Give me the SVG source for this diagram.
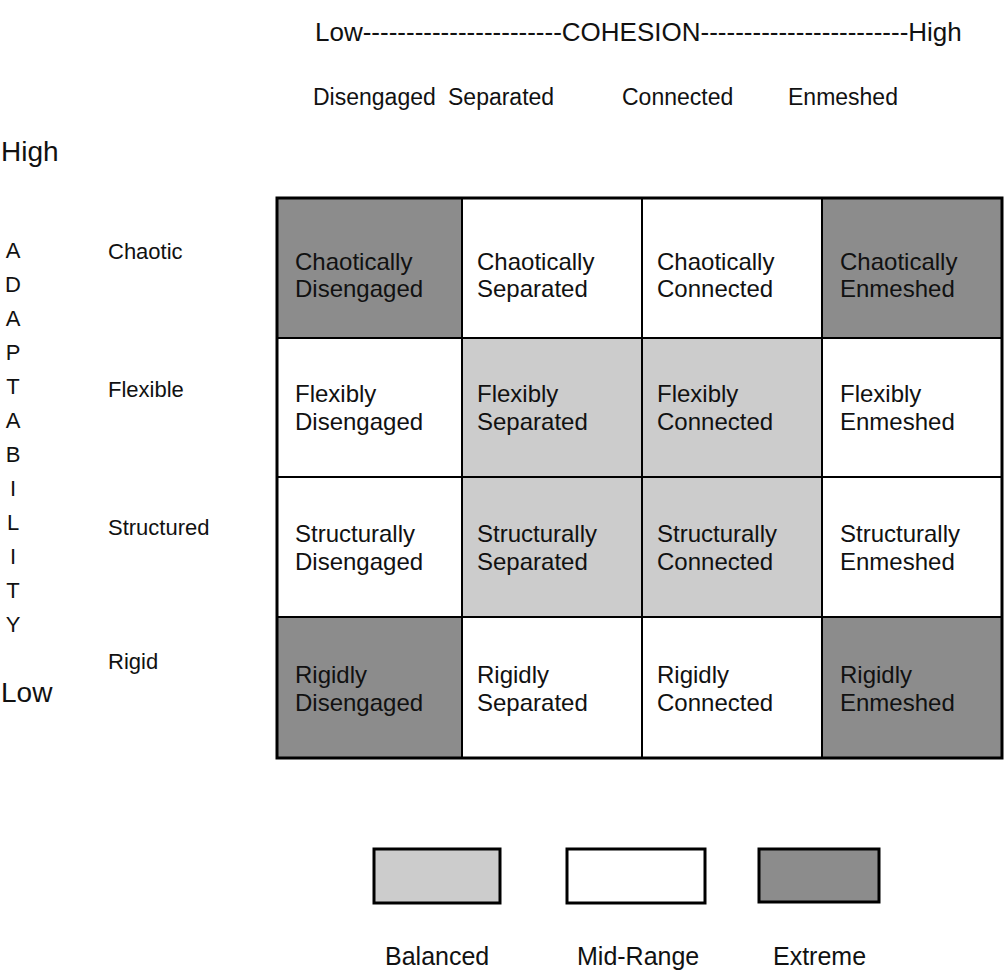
<svg xmlns="http://www.w3.org/2000/svg" width="1005" height="974" viewBox="0 0 1005 974">
<style>
text{font-family:"Liberation Sans",Arial,sans-serif;fill:#111}
.cell{font-size:24px}
.hdr{font-size:23px}
.row{font-size:22px}
.axis{font-size:28px}
.ltr{font-size:22px;text-anchor:middle}
.legt{font-size:25px}
.ext{fill:#8c8c8c}
.bal{fill:#cccccc}
.mid{fill:#ffffff}
.grid{stroke:#000;stroke-width:2;fill:none}
.leg{stroke:#000;stroke-width:3}
</style>
<rect width="1005" height="974" fill="#fff"/>
<g id="header">
<text x="315" y="41" style="font-size:26px">Low-----------------------COHESION------------------------High</text>
<text class="hdr" x="313" y="105">Disengaged</text>
<text class="hdr" x="448" y="105">Separated</text>
<text class="hdr" x="622" y="105">Connected</text>
<text class="hdr" x="788" y="105">Enmeshed</text>
</g>
<g id="axis-left">
<text class="axis" x="1" y="161">High</text>
<text class="axis" x="1" y="702">Low</text>
<text class="ltr" x="13" y="258">A</text>
<text class="ltr" x="13" y="292">D</text>
<text class="ltr" x="13" y="326">A</text>
<text class="ltr" x="13" y="360">P</text>
<text class="ltr" x="13" y="394">T</text>
<text class="ltr" x="13" y="428">A</text>
<text class="ltr" x="13" y="462">B</text>
<text class="ltr" x="13" y="496">I</text>
<text class="ltr" x="13" y="530">L</text>
<text class="ltr" x="13" y="564">I</text>
<text class="ltr" x="13" y="598">T</text>
<text class="ltr" x="13" y="632">Y</text>
<text class="row" x="108" y="259">Chaotic</text>
<text class="row" x="108" y="397">Flexible</text>
<text class="row" x="108" y="535">Structured</text>
<text class="row" x="108" y="669">Rigid</text>
</g>
<g id="cell-chaotically-disengaged"><rect class="ext" x="277" y="198" width="185" height="140"/><text class="cell" x="295" y="270">Chaotically</text><text class="cell" x="295" y="297">Disengaged</text></g>
<g id="cell-chaotically-separated"><rect class="mid" x="462" y="198" width="180" height="140"/><text class="cell" x="477" y="270">Chaotically</text><text class="cell" x="477" y="297">Separated</text></g>
<g id="cell-chaotically-connected"><rect class="mid" x="642" y="198" width="180" height="140"/><text class="cell" x="657" y="270">Chaotically</text><text class="cell" x="657" y="297">Connected</text></g>
<g id="cell-chaotically-enmeshed"><rect class="ext" x="822" y="198" width="180" height="140"/><text class="cell" x="840" y="270">Chaotically</text><text class="cell" x="840" y="297">Enmeshed</text></g>

<g id="cell-flexibly-disengaged"><rect class="mid" x="277" y="338" width="185" height="139"/><text class="cell" x="295" y="402">Flexibly</text><text class="cell" x="295" y="430">Disengaged</text></g>
<g id="cell-flexibly-separated"><rect class="bal" x="462" y="338" width="180" height="139"/><text class="cell" x="477" y="402">Flexibly</text><text class="cell" x="477" y="430">Separated</text></g>
<g id="cell-flexibly-connected"><rect class="bal" x="642" y="338" width="180" height="139"/><text class="cell" x="657" y="402">Flexibly</text><text class="cell" x="657" y="430">Connected</text></g>
<g id="cell-flexibly-enmeshed"><rect class="mid" x="822" y="338" width="180" height="139"/><text class="cell" x="840" y="402">Flexibly</text><text class="cell" x="840" y="430">Enmeshed</text></g>

<g id="cell-structurally-disengaged"><rect class="mid" x="277" y="477" width="185" height="140"/><text class="cell" x="295" y="542">Structurally</text><text class="cell" x="295" y="570">Disengaged</text></g>
<g id="cell-structurally-separated"><rect class="bal" x="462" y="477" width="180" height="140"/><text class="cell" x="477" y="542">Structurally</text><text class="cell" x="477" y="570">Separated</text></g>
<g id="cell-structurally-connected"><rect class="bal" x="642" y="477" width="180" height="140"/><text class="cell" x="657" y="542">Structurally</text><text class="cell" x="657" y="570">Connected</text></g>
<g id="cell-structurally-enmeshed"><rect class="mid" x="822" y="477" width="180" height="140"/><text class="cell" x="840" y="542">Structurally</text><text class="cell" x="840" y="570">Enmeshed</text></g>

<g id="cell-rigidly-disengaged"><rect class="ext" x="277" y="617" width="185" height="141"/><text class="cell" x="295" y="683">Rigidly</text><text class="cell" x="295" y="711">Disengaged</text></g>
<g id="cell-rigidly-separated"><rect class="mid" x="462" y="617" width="180" height="141"/><text class="cell" x="477" y="683">Rigidly</text><text class="cell" x="477" y="711">Separated</text></g>
<g id="cell-rigidly-connected"><rect class="mid" x="642" y="617" width="180" height="141"/><text class="cell" x="657" y="683">Rigidly</text><text class="cell" x="657" y="711">Connected</text></g>
<g id="cell-rigidly-enmeshed"><rect class="ext" x="822" y="617" width="180" height="141"/><text class="cell" x="840" y="683">Rigidly</text><text class="cell" x="840" y="711">Enmeshed</text></g>

<g id="grid-lines">
<line class="grid" x1="462" y1="198" x2="462" y2="758"/>
<line class="grid" x1="642" y1="198" x2="642" y2="758"/>
<line class="grid" x1="822" y1="198" x2="822" y2="758"/>
<line class="grid" x1="277" y1="338" x2="1002" y2="338"/>
<line class="grid" x1="277" y1="477" x2="1002" y2="477"/>
<line class="grid" x1="277" y1="617" x2="1002" y2="617"/>
<rect x="277" y="198" width="725" height="560" fill="none" stroke="#000" stroke-width="3"/>
</g>
<g id="legend-balanced"><rect class="bal leg" x="374" y="849" width="126" height="54"/><text class="legt" x="385" y="965">Balanced</text></g>
<g id="legend-midrange"><rect class="mid leg" x="567" y="849" width="138" height="54"/><text class="legt" x="577" y="965">Mid-Range</text></g>
<g id="legend-extreme"><rect class="ext leg" x="759" y="849" width="120" height="53"/><text class="legt" x="773" y="965">Extreme</text></g>
</svg>
